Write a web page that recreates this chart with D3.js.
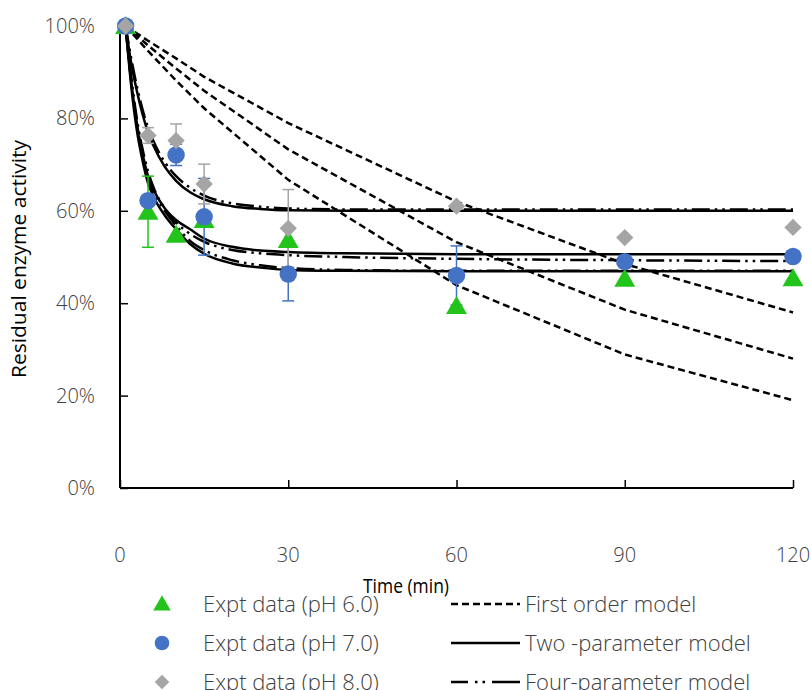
<!DOCTYPE html>
<html>
<head>
<meta charset="utf-8">
<script src="https://cdn.jsdelivr.net/npm/d3@7"></script>
<style>
  body { margin: 0; background: #fff; }
  text { font-family: "Open Sans", "Noto Sans", sans-serif; }
  .tick-label { font-size: 20px; font-weight: 300; fill: #404040; }
  .axis-title { fill: #000; }
  .legend-text { font-size: 22px; font-weight: 300; fill: #404040; }
</style>
</head>
<body>
<div id="chart"></div>
<script>
var svgWidth = 811;
var svgHeight = 690;

// plot area in page pixels
var margin = { top: 26, right: 18, bottom: 202, left: 120 };
var chartWidth = 793 - margin.left;
var chartHeight = 488 - margin.top;

// experimental data
var timePoints = [1, 5, 10, 15, 30, 60, 90, 120];
var ph6Values = [100, 59.8, 54.8, 58, 53.7, 39.4, 45.3, 45.4];
var ph7Values = [100, 62.2, 72.1, 58.7, 46.3, 46, 49, 50.1];
var ph8Values = [100, 76.3, 75.2, 65.8, 56.2, 61, 54.2, 56.4];
var ph6Errors = [0, 7.7, 0, 0, 0, 0, 0, 0];
var ph7Errors = [0, 0, 2.3, 8.3, 5.8, 6.4, 1.3, 0];
var ph8Errors = [0, 1.7, 3.6, 4.3, 8.4, 0, 0, 0];

// first order model
var firstOrderTime = [1, 5, 10, 15, 30, 60, 90, 120];
var firstOrderHigh = [100, 96.8, 93, 89, 79, 62, 48.5, 38];
var firstOrderMid = [100, 95.8, 90.8, 86, 73.3, 53.2, 38.6, 28];
var firstOrderLow = [100, 94.6, 88.2, 82.2, 66.7, 43.9, 28.9, 19];

// two- and four-parameter models
var modelTime = [1, 2, 3, 4, 5, 6, 8, 10, 12.5, 15, 20, 25, 30, 40, 60, 90, 120];
var twoParamHigh = [100, 92, 86, 81, 77, 74, 69.5, 66.5, 64, 62.5, 61, 60.4, 60.1, 60, 60, 60, 60];
var twoParamMid = [100, 88, 79, 72.5, 67.5, 64.5, 60.5, 58, 56, 54, 52.2, 51.4, 51.1, 50.8, 50.6, 50.6, 50.6];
var twoParamLow = [100, 87, 77.5, 71, 66, 63, 59, 56, 52.8, 50.7, 48.6, 47.7, 47.2, 47, 46.9, 46.9, 46.9];
var fourParamHigh = [100, 93, 87, 82, 78, 75, 70.5, 67.5, 65, 63.3, 61.6, 60.9, 60.5, 60.3, 60.3, 60.3, 60.3];
var fourParamMid = [100, 89, 80, 73.5, 68.5, 65, 60.5, 57.5, 55, 53.3, 51.5, 50.8, 50.4, 50, 49.6, 49.3, 49.1];
var fourParamLow = [100, 88, 79, 72, 67, 64, 60, 56.8, 53.5, 51.5, 49.3, 48.2, 47.6, 47.2, 47, 47, 47];

var xTicks = [0, 30, 60, 90, 120];
var yTicks = [0, 20, 40, 60, 80, 100];

var legendMarkers = ["Expt data (pH 6.0)", "Expt data (pH 7.0)", "Expt data (pH 8.0)"];
var legendLines = ["First order model", "Two -parameter model", "Four-parameter model"];

var green = "#22c31a";
var blue = "#4472c4";
var gray = "#a5a5a5";
var dashFirst = "7,4";
var dashFour = "18,5,2.5,5,2.5,5";
var dashFourLegend = "17,7,2.5,5,2.5,7,40";

var svg = d3.select("#chart")
  .append("svg")
  .attr("width", svgWidth)
  .attr("height", svgHeight);

var chartGroup = svg.append("g")
  .attr("transform", `translate(${margin.left}, ${margin.top})`);

var xScale = d3.scaleLinear().domain([0, 120]).range([0, chartWidth]);
var yScale = d3.scaleLinear().domain([0, 100]).range([chartHeight, 0]);

// axes: ticks point inward
var bottomAxis = d3.axisBottom(xScale).tickValues(xTicks).tickSize(-8).tickFormat("");
var leftAxis = d3.axisLeft(yScale).tickValues(yTicks).tickSize(-8).tickFormat("");

var xAxisG = chartGroup.append("g")
  .attr("transform", `translate(0, ${chartHeight})`)
  .call(bottomAxis);
var yAxisG = chartGroup.append("g").call(leftAxis);
[xAxisG, yAxisG].forEach(function(g) {
  g.select(".domain").attr("stroke", "#000").attr("stroke-width", 2);
  g.selectAll(".tick line").attr("stroke", "#000").attr("stroke-width", 1.5);
});
yAxisG.select(".domain").attr("d", `M0,${chartHeight}V0`);
xAxisG.select(".domain").attr("d", `M0,0H${chartWidth}`);

chartGroup.selectAll(".x-label")
  .data(xTicks)
  .enter()
  .append("text")
  .attr("class", "tick-label")
  .attr("x", d => xScale(d))
  .attr("y", chartHeight + 74)
  .attr("text-anchor", "middle")
  .text(d => d);

chartGroup.selectAll(".y-label")
  .data(yTicks)
  .enter()
  .append("text")
  .attr("class", "tick-label")
  .attr("x", -25)
  .attr("y", d => yScale(d) + 7)
  .attr("text-anchor", "end")
  .text(d => d + "%");

// titles squeezed a little to fit the narrower original face
chartGroup.append("text")
  .attr("class", "axis-title")
  .attr("font-size", 20)
  .attr("x", 406 - margin.left)
  .attr("y", chartHeight + 105)
  .attr("text-anchor", "middle")
  .attr("textLength", 86)
  .attr("lengthAdjust", "spacingAndGlyphs")
  .text("Time (min)");

chartGroup.append("text")
  .attr("class", "axis-title")
  .attr("font-size", 20)
  .attr("transform", "rotate(-90)")
  .attr("x", -(259 - margin.top))
  .attr("y", -94)
  .attr("text-anchor", "middle")
  .attr("textLength", 238)
  .attr("lengthAdjust", "spacingAndGlyphs")
  .text("Residual enzyme activity");

// model lines
function drawModel(times, values, dash, curve) {
  var line = d3.line()
    .x((d, i) => xScale(times[i]))
    .y(d => yScale(d))
    .curve(curve);
  chartGroup.append("path")
    .datum(values)
    .attr("d", line)
    .attr("fill", "none")
    .attr("stroke", "#000")
    .attr("stroke-width", 2.5)
    .attr("stroke-dasharray", dash);
}

[firstOrderHigh, firstOrderMid, firstOrderLow].forEach(function(v) {
  drawModel(firstOrderTime, v, dashFirst, d3.curveLinear);
});
[twoParamHigh, twoParamMid, twoParamLow].forEach(function(v) {
  drawModel(modelTime, v, null, d3.curveMonotoneX);
});
[fourParamHigh, fourParamMid, fourParamLow].forEach(function(v) {
  drawModel(modelTime, v, dashFour, d3.curveMonotoneX);
});

// error bars then markers
var series = [
  { values: ph6Values, errors: ph6Errors, color: green, symbol: d3.symbolTriangle, size: 190, rot: 0, dy: 2 },
  { values: ph7Values, errors: ph7Errors, color: blue, symbol: d3.symbolCircle, size: 240, rot: 0, dy: 0 },
  { values: ph8Values, errors: ph8Errors, color: gray, symbol: d3.symbolSquare, size: 150, rot: 45, dy: 0 }
];

series.forEach(function(s) {
  var g = chartGroup.append("g");
  timePoints.forEach(function(t, i) {
    var e = s.errors[i];
    if (!e) return;
    var x = xScale(t);
    var y1 = yScale(s.values[i] - e);
    var y2 = yScale(s.values[i] + e);
    g.append("line").attr("x1", x).attr("x2", x).attr("y1", y1).attr("y2", y2)
      .attr("stroke", s.color).attr("stroke-width", 1.5);
    [y1, y2].forEach(function(y) {
      g.append("line").attr("x1", x - 6).attr("x2", x + 6).attr("y1", y).attr("y2", y)
        .attr("stroke", s.color).attr("stroke-width", 1.5);
    });
  });
});

series.forEach(function(s) {
  chartGroup.append("g")
    .selectAll("path")
    .data(s.values)
    .enter()
    .append("path")
    .attr("d", d3.symbol().type(s.symbol).size(s.size))
    .attr("transform", (d, i) => `translate(${xScale(timePoints[i])}, ${yScale(d) + s.dy}) rotate(${s.rot})`)
    .attr("fill", s.color);
});

// legend
var legendG = svg.append("g");
var rowY = [604, 643, 682];

series.forEach(function(s, i) {
  legendG.append("path")
    .attr("d", d3.symbol().type(s.symbol).size(s.size * 0.7))
    .attr("transform", `translate(162, ${rowY[i] + s.dy * 0.7}) rotate(${s.rot})`)
    .attr("fill", s.color);
  legendG.append("text")
    .attr("class", "legend-text")
    .attr("x", 203)
    .attr("y", rowY[i] + 8)
    .text(legendMarkers[i]);
});

[dashFirst, null, dashFourLegend].forEach(function(dash, i) {
  legendG.append("line")
    .attr("x1", 451).attr("x2", 520)
    .attr("y1", rowY[i]).attr("y2", rowY[i])
    .attr("stroke", "#000")
    .attr("stroke-width", 2.5)
    .attr("stroke-dasharray", dash);
  legendG.append("text")
    .attr("class", "legend-text")
    .attr("x", 525)
    .attr("y", rowY[i] + 8)
    .text(legendLines[i]);
});
</script>
</body>
</html>
